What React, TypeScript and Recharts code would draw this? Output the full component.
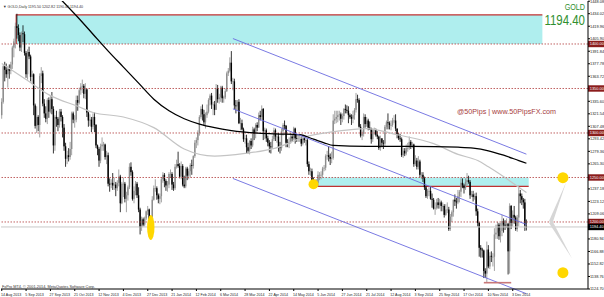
import React from 'react';
import {
  ComposedChart,
  Bar,
  Line,
  XAxis,
  YAxis,
  ReferenceLine,
  ReferenceArea,
  ReferenceDot,
} from 'recharts';

// daily candles [open, high, low, close], one array per month
const aug2013 = [[1320,1339,1316,1335],[1335,1377,1333,1375],[1375,1380,1358,1371],[1371,1378,1362,1366],[1366,1375,1351,1372],[1372,1377,1361,1370],[1370,1380,1366,1377],[1377,1398,1372,1396],[1396,1406,1385,1403],[1403,1424,1395,1420],[1420,1434,1406,1418],[1418,1422,1403,1410],[1410,1413,1392,1396]];
const sep2013 = [[1396,1414,1391,1412],[1412,1421,1402,1411],[1411,1414,1387,1390],[1390,1392,1362,1366],[1366,1394,1360,1391],[1391,1397,1383,1386],[1386,1388,1358,1363],[1363,1370,1355,1366],[1366,1367,1320,1331],[1331,1333,1305,1308],[1308,1330,1300,1318],[1318,1320,1302,1309],[1309,1367,1295,1364],[1364,1374,1356,1367],[1367,1370,1330,1333],[1333,1338,1317,1322],[1322,1330,1312,1316],[1316,1339,1310,1337],[1337,1340,1317,1324],[1324,1342,1322,1338],[1338,1346,1321,1327]];
const oct2013 = [[1327,1330,1277,1286],[1286,1320,1280,1318],[1318,1325,1307,1316],[1316,1318,1302,1309],[1309,1327,1306,1324],[1324,1327,1313,1318],[1318,1320,1295,1306],[1306,1310,1280,1285],[1285,1289,1262,1271],[1271,1280,1265,1275],[1275,1283,1268,1273],[1273,1290,1270,1282],[1282,1324,1275,1322],[1322,1324,1311,1315],[1315,1320,1306,1315],[1315,1342,1312,1337],[1337,1342,1325,1334],[1334,1351,1332,1348],[1348,1356,1343,1352],[1352,1360,1345,1353],[1353,1355,1339,1344],[1344,1356,1338,1349],[1349,1350,1318,1323]];
const nov2013 = [[1323,1324,1307,1314],[1314,1321,1308,1315],[1315,1318,1301,1307],[1307,1322,1304,1318],[1318,1323,1301,1309],[1309,1310,1283,1286],[1286,1287,1275,1282],[1282,1284,1262,1269],[1269,1288,1266,1285],[1285,1295,1280,1287],[1287,1290,1280,1287],[1287,1288,1270,1273],[1273,1280,1265,1275],[1275,1278,1240,1243],[1243,1249,1234,1242],[1242,1248,1238,1244],[1244,1255,1236,1241],[1241,1250,1236,1242],[1242,1245,1229,1238],[1238,1247,1235,1244],[1244,1259,1240,1251]];
const dec2013 = [[1251,1253,1211,1221],[1221,1245,1220,1243],[1243,1250,1228,1243],[1243,1245,1222,1226],[1226,1234,1211,1230],[1230,1241,1224,1239],[1239,1266,1237,1262],[1262,1267,1252,1256],[1256,1258,1224,1226],[1226,1240,1221,1235],[1235,1246,1230,1243],[1243,1245,1227,1230],[1230,1239,1211,1214],[1214,1216,1186,1194],[1194,1206,1190,1203],[1203,1205,1195,1197],[1197,1206,1195,1204],[1204,1213,1202,1212],[1212,1218,1208,1214],[1214,1215,1195,1203],[1203,1205,1182,1202]];
const jan2014 = [[1202,1229,1200,1225],[1225,1241,1224,1238],[1238,1248,1234,1238],[1238,1240,1225,1230],[1230,1232,1221,1226],[1226,1232,1220,1229],[1229,1250,1222,1248],[1248,1256,1244,1253],[1253,1255,1239,1246],[1246,1248,1235,1241],[1241,1246,1234,1242],[1242,1256,1238,1254],[1254,1259,1250,1254],[1254,1256,1236,1242],[1242,1245,1235,1238],[1238,1265,1236,1262],[1262,1270,1260,1265],[1265,1279,1261,1263],[1263,1266,1249,1251],[1251,1268,1248,1263],[1263,1265,1240,1242],[1242,1252,1238,1240]];
const feb2014 = [[1240,1262,1238,1260],[1260,1262,1247,1252],[1252,1260,1248,1257],[1257,1266,1250,1264],[1264,1270,1253,1263],[1263,1275,1260,1274],[1274,1292,1272,1289],[1289,1295,1283,1292],[1292,1303,1286,1300],[1300,1320,1297,1318],[1318,1330,1316,1327],[1327,1332,1314,1321],[1321,1326,1308,1312],[1312,1323,1305,1320],[1320,1332,1317,1324],[1324,1339,1322,1337],[1337,1344,1331,1342],[1342,1345,1327,1332],[1332,1335,1320,1332],[1332,1336,1320,1326]];
const mar2014 = [[1326,1355,1326,1350],[1350,1354,1334,1338],[1338,1344,1333,1340],[1340,1353,1335,1351],[1351,1353,1334,1339],[1339,1342,1334,1340],[1340,1350,1338,1347],[1347,1369,1346,1367],[1367,1373,1364,1370],[1370,1385,1368,1379],[1379,1392,1355,1358],[1358,1362,1348,1358],[1358,1361,1327,1331],[1331,1337,1322,1330],[1330,1337,1325,1335],[1335,1338,1310,1311],[1311,1317,1303,1311],[1311,1315,1303,1304],[1304,1306,1290,1293],[1293,1298,1288,1294],[1294,1298,1277,1284]];
const apr2014 = [[1284,1289,1277,1280],[1280,1292,1276,1291],[1291,1294,1282,1286],[1286,1307,1284,1304],[1304,1306,1292,1299],[1299,1311,1294,1309],[1309,1312,1302,1306],[1306,1323,1306,1320],[1320,1325,1314,1318],[1318,1331,1315,1327],[1327,1328,1292,1302],[1302,1306,1293,1303],[1303,1305,1290,1294],[1294,1297,1285,1289],[1289,1292,1278,1285],[1285,1290,1277,1284],[1284,1297,1282,1293],[1293,1306,1291,1303],[1303,1305,1291,1296],[1296,1300,1289,1296],[1296,1300,1279,1284]];
const may2014 = [[1284,1290,1277,1283],[1283,1305,1280,1302],[1302,1311,1297,1309],[1309,1314,1304,1308],[1308,1309,1284,1289],[1289,1293,1284,1288],[1288,1295,1283,1290],[1290,1300,1288,1296],[1296,1298,1290,1294],[1294,1307,1292,1305],[1305,1306,1288,1294],[1294,1298,1290,1293],[1293,1297,1290,1294],[1294,1297,1290,1294],[1294,1296,1285,1288],[1288,1297,1286,1294],[1294,1296,1289,1292],[1292,1295,1286,1292],[1292,1294,1262,1265],[1265,1268,1253,1257],[1257,1261,1252,1257],[1257,1260,1243,1246]];
const jun2014 = [[1246,1250,1241,1244],[1244,1248,1240,1244],[1244,1248,1241,1244],[1244,1257,1240,1253],[1253,1256,1247,1253],[1253,1257,1248,1253],[1253,1262,1250,1260],[1260,1264,1257,1261],[1261,1276,1258,1274],[1274,1280,1270,1275],[1275,1285,1268,1273],[1273,1277,1264,1271],[1271,1279,1266,1272],[1272,1321,1270,1314],[1314,1325,1310,1316],[1316,1325,1311,1318],[1318,1325,1312,1320],[1320,1325,1314,1321],[1321,1323,1309,1316],[1316,1322,1312,1319],[1319,1328,1315,1327]];
const jul2014 = [[1327,1332,1322,1326],[1326,1331,1322,1325],[1325,1330,1311,1320],[1320,1322,1316,1318],[1318,1321,1309,1316],[1316,1325,1311,1320],[1320,1328,1315,1326],[1326,1345,1323,1338],[1338,1343,1334,1337],[1337,1339,1306,1307],[1307,1310,1295,1297],[1297,1303,1292,1299],[1299,1322,1296,1318],[1318,1321,1306,1310],[1310,1318,1307,1314],[1314,1316,1303,1306],[1306,1313,1304,1304],[1304,1306,1288,1293],[1293,1305,1290,1303],[1303,1306,1298,1304],[1304,1305,1296,1298],[1298,1302,1293,1296],[1296,1297,1281,1283]];
const aug2014 = [[1283,1297,1280,1294],[1294,1294,1284,1289],[1289,1292,1282,1288],[1288,1309,1285,1307],[1307,1314,1304,1312],[1312,1322,1304,1311],[1311,1313,1304,1309],[1309,1314,1303,1309],[1309,1317,1307,1314],[1314,1320,1311,1314],[1314,1321,1302,1305],[1305,1305,1294,1298],[1298,1300,1292,1294],[1294,1299,1290,1293],[1293,1295,1273,1275],[1275,1283,1272,1280],[1280,1283,1274,1277],[1277,1287,1275,1283],[1283,1289,1279,1283],[1283,1296,1281,1290],[1290,1292,1282,1286]];
const sep2014 = [[1286,1290,1283,1287],[1287,1288,1262,1265],[1265,1275,1263,1269],[1269,1272,1259,1262],[1262,1274,1259,1268],[1268,1270,1250,1253],[1253,1256,1248,1253],[1253,1256,1245,1249],[1249,1251,1236,1239],[1239,1241,1227,1229],[1229,1237,1226,1235],[1235,1239,1229,1235],[1235,1240,1225,1226],[1226,1232,1216,1225],[1225,1227,1214,1215],[1215,1222,1208,1216],[1216,1226,1214,1222],[1222,1227,1215,1219],[1219,1226,1215,1222],[1222,1224,1212,1218],[1218,1222,1212,1218],[1218,1220,1205,1208]];
const oct2014 = [[1208,1220,1207,1214],[1214,1222,1210,1214],[1214,1217,1190,1192],[1192,1209,1190,1206],[1206,1213,1200,1211],[1211,1225,1206,1225],[1225,1231,1218,1223],[1223,1227,1215,1222],[1222,1236,1220,1229],[1229,1236,1222,1234],[1234,1249,1228,1244],[1244,1249,1238,1241],[1241,1243,1232,1238],[1238,1249,1236,1245],[1245,1255,1241,1247],[1247,1252,1243,1245],[1245,1247,1226,1230],[1230,1235,1228,1231],[1231,1235,1223,1228],[1228,1232,1225,1229],[1229,1233,1207,1212],[1212,1215,1195,1199],[1199,1200,1161,1171]];
const nov2014 = [[1171,1174,1160,1169],[1169,1171,1160,1168],[1168,1169,1137,1145],[1145,1148,1137,1142],[1142,1178,1132,1169],[1169,1174,1148,1150],[1150,1166,1147,1162],[1162,1167,1155,1161],[1161,1165,1150,1161],[1161,1193,1145,1186],[1186,1197,1181,1188],[1188,1200,1181,1197],[1197,1199,1180,1184],[1184,1199,1177,1190],[1190,1208,1184,1201],[1201,1204,1188,1197],[1197,1202,1191,1196],[1196,1204,1193,1198],[1198,1199,1141,1167]];
const dec2014 = [[1167,1221,1142,1218],[1218,1219,1192,1199],[1199,1213,1195,1208],[1208,1218,1198,1205],[1205,1207,1190,1192],[1192,1208,1189,1205],[1205,1239,1195,1232],[1232,1236,1221,1229],[1229,1232,1219,1225],[1225,1227,1215,1222],[1222,1226,1190,1196],[1195.5,1202.82,1190.4,1194.4]];

// moving averages: [bar index, price]
const ma200 = [[36,1455],[50,1430],[60,1411],[70,1392],[80,1374],[90,1356],[100,1338],[110,1325],[120,1316],[130,1310],[140,1306],[150,1303],[160,1301],[180,1299],[196,1298],[205,1293],[212,1289],[218,1286],[240,1285],[270,1285],[300,1284],[310,1283],[320,1280],[330,1275],[340,1269],[345,1266]];
const ma100 = [[0,1378],[16,1360],[32,1342],[50,1330],[60,1323],[80,1318],[100,1306],[120,1282],[140,1274],[160,1277],[180,1283],[200,1296],[216,1301],[240,1305],[260,1298],[284,1288],[300,1276],[313,1269],[320,1262],[345,1233]];

const dateLabels = ['14 Aug 2013','5 Sep 2013','27 Sep 2013','21 Oct 2013','12 Nov 2013','4 Dec 2013','27 Dec 2013','21 Jan 2014','12 Feb 2014','6 Mar 2014','28 Mar 2014','22 Apr 2014','14 May 2014','5 Jun 2014','27 Jun 2014','21 Jul 2014','12 Aug 2014','3 Sep 2014','25 Sep 2014','17 Oct 2014','10 Nov 2014','3 Dec 2014'];
const dateTicks = dateLabels.map((_, k) => k * 16);
const priceTicks = [1124.70,1138.76,1152.82,1166.88,1180.94,1209.06,1223.12,1237.18,1265.30,1279.36,1293.42,1307.48,1321.54,1335.60,1363.72,1377.78,1391.84,1405.90,1419.96,1434.02,1448.08];
const levels = [1400, 1350, 1300, 1250, 1200];
const lastPrice = 1194.4;

const candles = [aug2013, sep2013, oct2013, nov2013, dec2013, jan2014, feb2014, mar2014, apr2014, may2014, jun2014, jul2014, aug2014, sep2014, oct2014, nov2014, dec2014].flat();
const SLOTS = 386;
const pick = (pts: number[][], i: number) => {
  const f = pts.find((p) => p[0] === i);
  return f ? f[1] : null;
};
const rows = Array.from({ length: SLOTS }, (_, i) => {
  const k = candles[i];
  return {
    i,
    range: k ? [k[2], k[1]] : null,
    o: k ? k[0] : null,
    h: k ? k[1] : null,
    l: k ? k[2] : null,
    c: k ? k[3] : null,
    ma200: pick(ma200, i),
    ma100: pick(ma100, i),
  };
});

const FONT = 'Liberation Sans, Arial, sans-serif';
const GREEN = '#2f8f2f';

const Candle = (props: any) => {
  const { x, y, width, height, payload } = props;
  if (!payload || payload.h == null) return null;
  const { o, h, l, c } = payload;
  const top = Math.min(y, y + height);
  const hgt = Math.abs(height);
  const cx = x + width / 2;
  const k = h === l ? 0 : hgt / (h - l);
  const yo = top + (h - o) * k;
  const yc = top + (h - c) * k;
  const col = c >= o ? '#8c8c8c' : '#000';
  return (
    <g>
      <line x1={cx} x2={cx} y1={top} y2={top + hgt} stroke={col} strokeWidth={0.8} />
      <rect x={cx - 0.7} y={Math.min(yo, yc)} width={1.4} height={Math.max(Math.abs(yc - yo), 0.7)} fill={col} />
    </g>
  );
};

const DateTick = (p: any) => (
  <text x={p.x - 0.8} y={295.5} fontSize={3.6} fill="#222" fontFamily={FONT}>
    {dateLabels[p.payload.value / 16]}
  </text>
);

const PriceTick = (p: any) => (
  <text x={590} y={p.y + 1.4} fontSize={3.9} fill="#222" fontFamily={FONT}>
    {Number(p.payload.value).toFixed(2)}
  </text>
);

const Tag = (p: any) => {
  const vb = p.viewBox;
  const x = vb.x + vb.width;
  return (
    <g>
      <rect x={x} y={vb.y - 3.2} width={16} height={6.4} fill={p.bg} />
      <text x={x + 1.8} y={vb.y + 1.4} fontSize={3.9} fill="#fff" fontFamily={FONT}>{p.text}</text>
    </g>
  );
};

const TopBox = (p: any) => (
  <g>
    <rect x={p.x} y={p.y} width={p.width} height={p.height} fill="#AFEEEE" />
    <path d={`M${p.x},${p.y + p.height} V${p.y} H${p.x + p.width}`} stroke="#c03030" strokeWidth={1.2} fill="none" />
  </g>
);

const LowBox = (p: any) => (
  <g>
    <rect x={p.x} y={p.y} width={p.width} height={p.height} fill="#AFEEEE" />
    <line x1={p.x} x2={p.x + p.width} y1={p.y + p.height} y2={p.y + p.height} stroke="#c03030" strokeWidth={1.2} />
  </g>
);

const Arm = (p: any) => {
  const { x1, y1, x2, y2 } = p;
  const len = Math.hypot(x2 - x1, y2 - y1) || 1;
  const nx = (-(y2 - y1) / len) * 2;
  const ny = ((x2 - x1) / len) * 2;
  return <polygon points={`${x1 + nx},${y1 + ny} ${x1 - nx},${y1 - ny} ${x2},${y2}`} fill="#d6d6d6" />;
};

const blob = (rx: number, ry: number) => (p: any) => (
  <ellipse cx={p.cx} cy={p.cy} rx={rx} ry={ry} fill="#FFD700" />
);

export default function App() {
  return (
    <div style={{ position: 'absolute', left: 0, top: 0, width: 604, height: 297, background: '#fff' }}>
      <ComposedChart width={604} height={297} data={rows} margin={{ top: 1, right: 0, bottom: 0, left: 1 }}>
        <XAxis
          dataKey="i"
          type="category"
          interval={0}
          ticks={dateTicks}
          height={8}
          tick={<DateTick />}
          tickSize={2}
          tickLine={{ stroke: '#000' }}
          axisLine={{ stroke: '#000' }}
        />
        <YAxis
          orientation="right"
          width={16}
          domain={[1124.7, 1448.3]}
          allowDataOverflow
          ticks={priceTicks}
          interval={0}
          tick={<PriceTick />}
          tickSize={2}
          tickLine={{ stroke: '#000' }}
          axisLine={{ stroke: '#000' }}
        />
        <ReferenceArea x1={10} x2={355} y1={1400} y2={1432.6} shape={<TopBox />} />
        <ReferenceArea x1={208} x2={346} y1={1240} y2={1250} shape={<LowBox />} />
        {levels.map((v) => (
          <ReferenceLine
            key={v}
            y={v}
            stroke="#b03a3a"
            strokeWidth={0.8}
            strokeDasharray="1.5 1.5"
            label={<Tag bg="#8b1c1c" text={v.toFixed(2)} />}
          />
        ))}
        <ReferenceLine y={lastPrice} stroke="#c8c8c8" strokeWidth={1} label={<Tag bg="#000" text={lastPrice.toFixed(2)} />} />
        <Bar dataKey="range" barSize={1.4} shape={<Candle />} isAnimationActive={false} />
        <Line dataKey="ma100" type="monotone" stroke="#c4c4c4" strokeWidth={1.2} dot={false} connectNulls isAnimationActive={false} />
        <Line dataKey="ma200" type="monotone" stroke="#000" strokeWidth={1.3} dot={false} connectNulls isAnimationActive={false} />
        <ReferenceLine segment={[{ x: 152, y: 1406.1 }, { x: 345, y: 1276.2 }]} stroke="#6b6be0" strokeWidth={0.9} ifOverflow="visible" />
        <ReferenceLine segment={[{ x: 152, y: 1327.1 }, { x: 345, y: 1197.2 }]} stroke="#6b6be0" strokeWidth={0.9} ifOverflow="visible" />
        <ReferenceLine segment={[{ x: 152, y: 1248.9 }, { x: 345, y: 1119.4 }]} stroke="#6b6be0" strokeWidth={0.9} ifOverflow="visible" />
        <ReferenceLine segment={[{ x: 317, y: 1131.8 }, { x: 335, y: 1131.8 }]} stroke="#c87878" strokeWidth={1.6} />
        <ReferenceLine segment={[{ x: 361, y: 1200 }, { x: 371, y: 1244 }]} shape={<Arm />} ifOverflow="visible" />
        <ReferenceLine segment={[{ x: 361, y: 1200 }, { x: 375, y: 1159 }]} shape={<Arm />} ifOverflow="visible" />
        <ReferenceDot x={98} y={1193.8} shape={blob(3.7, 12.5)} />
        <ReferenceDot x={205} y={1242.4} shape={blob(5, 5)} />
        <ReferenceDot x={369} y={1249.8} shape={blob(5.5, 5.5)} />
        <ReferenceDot x={369} y={1143} shape={blob(5.5, 5.5)} />
      </ComposedChart>
      <svg width={604} height={297} style={{ position: 'absolute', left: 0, top: 0, pointerEvents: 'none' }}>
        <text x={3} y={7.5} fontSize={4} fill="#333" fontFamily={FONT} textLength={80} lengthAdjust="spacingAndGlyphs">
          ▼ GOLD,Daily  1195.50 1202.82 1190.40 1194.40
        </text>
        <g transform="translate(585,9.5) scale(0.8,1)">
          <text x={0} y={0} fontSize={9} fill={GREEN} fontFamily={FONT} textAnchor="end">GOLD</text>
        </g>
        <g transform="translate(585,25.3) scale(0.74,1)">
          <text x={0} y={0} fontSize={15.5} fill={GREEN} fontFamily={FONT} textAnchor="end">1194.40</text>
        </g>
        <text x={457} y={113.8} fontSize={7.4} fill="#a63c3c" fontFamily={FONT} textLength={99} lengthAdjust="spacingAndGlyphs">
          @50Pips | www.50PipsFX.com
        </text>
        <text x={2} y={287.6} fontSize={3.7} fill="#333" fontFamily={FONT} textLength={93} lengthAdjust="spacingAndGlyphs">
          FxPro MT4, © 2001-2014, MetaQuotes Software Corp.
        </text>
      </svg>
    </div>
  );
}
